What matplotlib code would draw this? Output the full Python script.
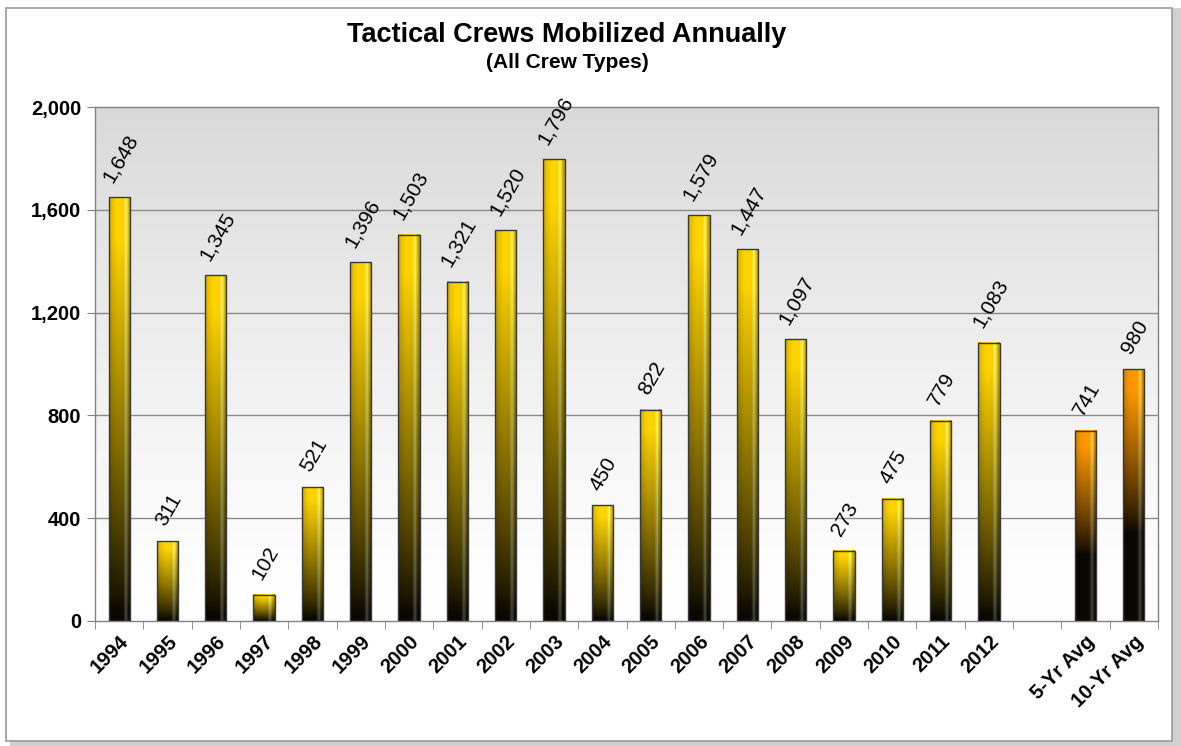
import numpy as np
import matplotlib.pyplot as plt
from matplotlib.patches import Rectangle

plt.rcParams['font.family'] = ['Liberation Sans', 'DejaVu Sans']

years = [str(y) for y in range(1994, 2013)]
values = [1648, 311, 1345, 102, 521, 1396, 1503, 1321, 1520, 1796,
          450, 822, 1579, 1447, 1097, 273, 475, 779, 1083]
avg_labels = ['5-Yr Avg', '10-Yr Avg']
avg_values = [741, 980]

categories = years + [''] + avg_labels
yticks = [0, 400, 800, 1200, 1600, 2000]

W, H = 1181, 746
fig = plt.figure(figsize=(W / 100, H / 100), dpi=100)

# outer frame with a soft shadow
fig.patches.append(Rectangle((10 / W, 1 - 746 / H), 1171 / W, 738 / H,
                             transform=fig.transFigure, facecolor='#d0d0d0',
                             edgecolor='none', zorder=-3))
fig.patches.append(Rectangle((6 / W, 1 - 741 / H), 1166 / W, 733 / H,
                             transform=fig.transFigure, facecolor='white',
                             edgecolor='#9a9a9a', lw=1.2, zorder=-2))

ax = fig.add_axes([95 / W, 1 - 621 / H, (1158 - 95) / W, (621 - 107) / H])
n = len(categories)

# plot area background: grey at top fading to white
bg = np.linspace(0, 1, 256)[:, None]
bgc = np.ones((256, 1, 3)) * (1 - 0.15 * bg ** 1.3)[:, :, None]
ax.imshow(bgc, extent=(-0.5, n - 0.5, 0, 2000), origin='lower',
          aspect='auto', zorder=0)

for v in yticks[1:-1]:
    ax.axhline(v, color='#8a8a8a', lw=1, zorder=1)


def bar_image(base, hl, dark_frac):
    t = np.linspace(0, 1, 120)[:, None]
    u = np.linspace(0, 1, 40)[None, :]
    vert = np.clip((t - dark_frac) / (0.95 - dark_frac), 0, 1) ** 0.85
    vert = np.clip(vert + 0.04, 0, 1)
    shade = 0.72 + 0.28 * np.sin(np.pi * np.clip(u * 1.05, 0, 1)) ** 0.5
    hi = np.exp(-((u - 0.78) / 0.08) ** 2) * 0.75
    base = np.array(base)
    hl = np.array(hl)
    col = base[None, None, :] * shade[:, :, None]
    col = col + hi[:, :, None] * (hl[None, None, :] - col)
    col = col * vert[:, :, None]
    # faint grey sheen where the bar is dark
    col = col + (hi * 0.3 * (1 - vert))[:, :, None]
    col = np.broadcast_to(col, (120, 40, 3))
    return np.clip(col, 0, 1)


bw = 0.44
yellow_img = bar_image((1.0, 0.83, 0.0), (1.0, 1.0, 0.45), 0.02)
orange_img = bar_image((1.0, 0.6, 0.0), (1.0, 0.88, 0.35), 0.35)

xs = list(range(len(years))) + [n - 2, n - 1]
vals = values + avg_values
for i, (x, v) in enumerate(zip(xs, vals)):
    img = yellow_img if i < len(years) else orange_img
    ax.imshow(img, extent=(x - bw / 2, x + bw / 2, 0, v), origin='lower',
              aspect='auto', zorder=2)
    ax.bar(x, v, bw, facecolor='none', edgecolor='#3a3a3a', lw=1, zorder=3)
    ax.annotate(f'{v:,}', (x, v), xytext=(1, 8.5), textcoords='offset points',
                ha='center', va='bottom', rotation=60, fontsize=15,
                color='black', zorder=4)

ax.set_xlim(-0.5, n - 0.5)
ax.set_ylim(0, 2000)

ax.set_yticks(yticks)
ax.set_yticklabels([f'{v:,}' for v in yticks], fontsize=14.5,
                   fontweight='bold')
ax.set_xticks(range(n))
ax.set_xticklabels(categories, rotation=45, ha='right',
                   rotation_mode='anchor', fontsize=14.5, fontweight='bold')
ax.set_xticks(np.arange(-0.5, n, 1), minor=True)
ax.tick_params(axis='x', which='major', length=0, pad=8)
ax.tick_params(axis='x', which='minor', length=6, color='#808080')
ax.tick_params(axis='y', length=6, color='#808080', pad=4)

for s in ax.spines.values():
    s.set_color('#808080')
    s.set_linewidth(1)

fig.text(567 / W, 1 - 35 / H, 'Tactical Crews Mobilized Annually',
         ha='center', va='center', fontsize=19.5, fontweight='bold')
fig.text(567 / W, 1 - 62 / H, '(All Crew Types)',
         ha='center', va='center', fontsize=15, fontweight='bold')

fig.savefig('out.png', dpi=100)
